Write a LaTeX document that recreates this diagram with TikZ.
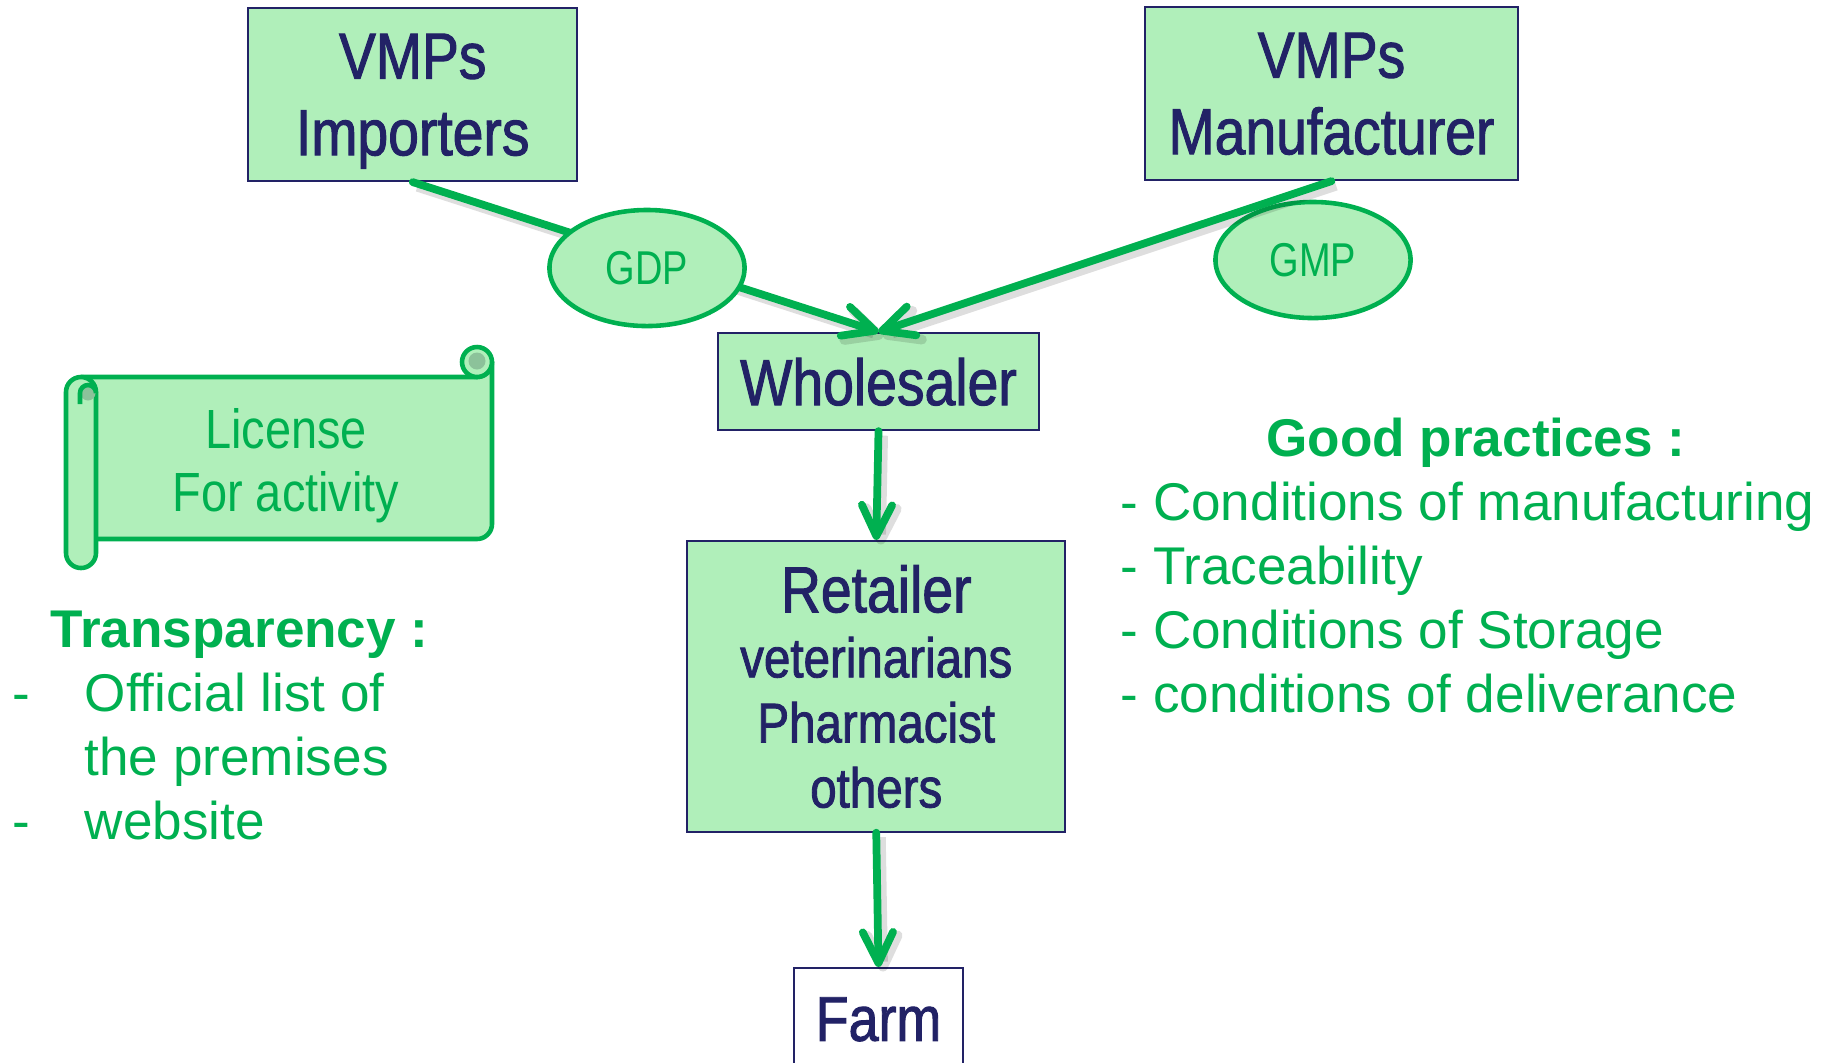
\documentclass[tikz,border=0pt]{standalone}
\usepackage{fontspec}
\setmainfont{Liberation Sans}
\newfontfamily\narrowfont[FakeStretch=0.85,FakeBold=1.5]{Liberation Sans}
\newfontfamily\licfont[FakeStretch=0.85]{Liberation Sans}
\newfontfamily\gfont[FakeStretch=0.8]{Liberation Sans}
\usetikzlibrary{arrows.meta,shapes.geometric}
\definecolor{navy}{HTML}{222266}
\definecolor{pgreen}{HTML}{00B050}
\definecolor{lgreen}{HTML}{B0EFBA}
\definecolor{dgreen}{HTML}{8CC29A}
\begin{document}
\begin{tikzpicture}[x=0.01cm,y=-0.01cm,
  box/.style={draw=navy, line width=0.6pt, fill=lgreen, text=navy, inner sep=0pt,
    align=center, text depth=0pt, font=\narrowfont\fontsize{18.5pt}{21.8pt}\selectfont},
  oval/.style={ellipse, draw=pgreen, line width=1.3pt, fill=lgreen, text=pgreen,
    inner sep=0pt, minimum width=1.95cm, minimum height=1.16cm,
    font=\gfont\fontsize{13.5pt}{16pt}\selectfont},
  flow/.style={draw=pgreen, line width=2.2pt, line cap=round,
    -{Straight Barb[length=8.8pt,width=8.6pt,round]},
    preaction={draw=black, draw opacity=0.13, line width=2.8pt,
      transform canvas={xshift=1.3pt,yshift=-1.3pt}}},
  scrollpart/.style={draw=pgreen, line width=1.3pt, fill=lgreen, line join=round},
  curl/.style={fill=dgreen},
  gtext/.style={text=pgreen, inner sep=0pt, font=\fontsize{15.1pt}{18pt}\selectfont},
  gbold/.style={text=pgreen, inner sep=0pt, font=\bfseries\fontsize{15.1pt}{18pt}\selectfont},
]
\useasboundingbox (0,0) rectangle (1821,1062);
\clip (0,0) rectangle (1821,1062);

% boxes
\node[box, minimum width=3.285cm, minimum height=1.73cm, text depth=-1.7pt] (imp) at (412.75,94.5) {VMPs\\Importers};
\node[box, minimum width=3.73cm, minimum height=1.73cm, text depth=-1.7pt] (man) at (1331.5,93.5) {VMPs\\Manufacturer};
\node[box, minimum width=3.21cm, minimum height=0.97cm] (whole) at (878.5,381.5) {Wholesaler};
\node[box, minimum width=3.775cm, minimum height=2.905cm, text depth=-2pt,
  font=\narrowfont\fontsize{15.9pt}{18.5pt}\selectfont] (ret) at (876.25,686.25)
  {{\fontsize{18.5pt}{18.5pt}\selectfont Retailer}\\veterinarians\\Pharmacist\\others};
\node[box, fill=white, minimum width=1.69cm, minimum height=1.02cm,
  font=\narrowfont\fontsize{18pt}{21pt}\selectfont] (farm) at (878.5,1019) {Farm};

% GMP label (under the line)
\node[oval] (gmp) at (1313,260) {GMP};

% connectors
\draw[flow] (imp.south) -- (whole.north);
\draw[flow] (man.south) -- (whole.north);
\draw[flow] (whole.south) -- (ret.north);
\draw[flow] (ret.south) -- (farm.north);

% GDP label (over the line)
\node[oval] (gdp) at (647,268) {GDP};

% scroll
\path[scrollpart] (81,377) -- (477,377) .. controls (485.3,377) and (492,370.3) .. (492,362)
  -- (492,524) .. controls (492,532.3) and (485.3,539) .. (477,539) -- (81,539) -- cycle;
\path[scrollpart] (477,362) circle[radius=15];
\path[curl] (477,361) circle[radius=8.5];
\path[scrollpart] (66,392) .. controls (66,383.7) and (72.7,377) .. (81,377)
  .. controls (89.3,377) and (96,383.7) .. (96,392) -- (96,553)
  .. controls (96,561.3) and (89.3,568) .. (81,568)
  .. controls (72.7,568) and (66,561.3) .. (66,553) -- cycle;
\path[curl] (88,393) circle[radius=7.5];
\draw[draw=pgreen, line width=1.3pt] (80,404) -- (80,393) .. controls (80,388.6) and (83.6,385) .. (88,385)
  .. controls (92.4,385) and (96,388.6) .. (96,393);
\node[text=pgreen, inner sep=0pt, align=center, text depth=0pt,
  font=\licfont\fontsize{15.7pt}{18.1pt}\selectfont] (lic) at (286,460) {License\\For activity};

% transparency
\node[gbold, anchor=base west] (trh) at (50,647) {Transparency :};
\node[gtext, anchor=base west] (dash1) at (12,711) {-};
\node[gtext, anchor=base west] (tl1) at (84,711) {Official list of};
\node[gtext, anchor=base west] (tl2) at (84,775) {the premises};
\node[gtext, anchor=base west] (dash2) at (12,839) {-};
\node[gtext, anchor=base west] (tl3) at (84,839) {website};

% good practices
\node[gbold, anchor=base] (gph) at (1476,456) {Good practices :};
\node[gtext, anchor=base west] (g1) at (1120,520) {- Conditions of manufacturing};
\node[gtext, anchor=base west] (g2) at (1120,584) {- Traceability};
\node[gtext, anchor=base west] (g3) at (1120,648) {- Conditions of Storage};
\node[gtext, anchor=base west] (g4) at (1120,712) {- conditions of deliverance};
\end{tikzpicture}
\end{document}
